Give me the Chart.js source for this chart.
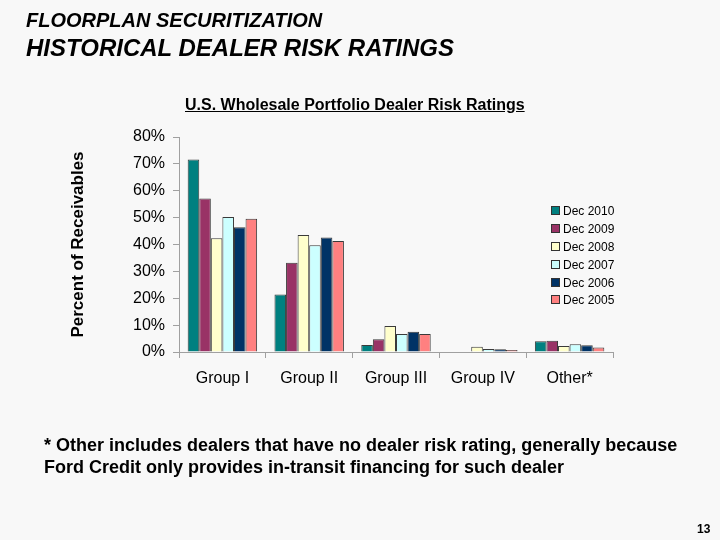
<!DOCTYPE html>
<html>
<head>
<meta charset="utf-8">
<script src="https://cdn.jsdelivr.net/npm/chart.js@4"></script>
<style>
  body { margin: 0; background: #f8f8f8; font-family: "Liberation Sans", Arial, sans-serif; }
  #slide { position: relative; width: 720px; height: 540px; overflow: hidden; }
  #chart { position: absolute; left: 0; top: 0; }
  .txt { position: absolute; color: #000; font-weight: bold; white-space: nowrap; }
  #legend { position: absolute; left: 551px; top: 203px; font-size: 12px; }
  #legend div { height: 17.9px; line-height: 17.9px; }
  #legend span.box { display: inline-block; width: 7px; height: 7px; border: 1px solid #333; margin-right: 3px; vertical-align: 0px; }
</style>
</head>
<body>
<div id="slide">
  <canvas id="chart" width="720" height="540"></canvas>
  <div class="txt" style="left:26px; top:9px; font-size:20px; font-style:italic;">FLOORPLAN SECURITIZATION</div>
  <div class="txt" style="left:26px; top:34px; font-size:24px; font-style:italic;">HISTORICAL DEALER RISK RATINGS</div>
  <div class="txt" style="left:185px; top:96px; font-size:16px; text-decoration:underline;">U.S. Wholesale Portfolio Dealer Risk Ratings</div>
  <div class="txt" style="left:44px; top:434px; font-size:18px; line-height:22px;">* Other includes dealers that have no dealer risk rating, generally because<br>Ford Credit only provides in-transit financing for such dealer</div>
  <div class="txt" style="left:697px; top:522px; font-size:12px;">13</div>
  <div id="legend"></div>
</div>
<script>
const categories = ['Group I', 'Group II', 'Group III', 'Group IV', 'Other*'];
const seriesNames = ['Dec 2010', 'Dec 2009', 'Dec 2008', 'Dec 2007', 'Dec 2006', 'Dec 2005'];
const dec2010 = [71.6, 21.4, 2.6, 0.0, 4.0];
const dec2009 = [57.1, 33.2, 4.7, 0.2, 4.2];
const dec2008 = [42.3, 43.5, 9.7, 2.0, 2.2];
const dec2007 = [50.2, 39.7, 6.7, 1.1, 2.9];
const dec2006 = [46.4, 42.6, 7.5, 1.0, 2.5];
const dec2005 = [49.6, 41.3, 6.7, 0.7, 1.7];
const yTicks = [0, 10, 20, 30, 40, 50, 60, 70, 80];

const colors = ['#008080', '#993366', '#ffffcc', '#ccffff', '#003366', '#ff8080'];
const values = [dec2010, dec2009, dec2008, dec2007, dec2006, dec2005];

const datasets = seriesNames.map((name, i) => ({
    label: name,
    data: values[i],
    backgroundColor: colors[i],
    borderColor: '#3a3a3a',
    borderWidth: 1,
    borderSkipped: 'bottom',
    categoryPercentage: 0.8,
    barPercentage: 1.0
}));

// legend drawn as html, it floats inside the plot area like in the slide
const legend = document.getElementById('legend');
datasets.forEach(ds => {
    const row = document.createElement('div');
    row.innerHTML = `<span class="box" style="background:${ds.backgroundColor}"></span>${ds.label}`;
    legend.appendChild(row);
});

const ctx = document.getElementById('chart').getContext('2d');
new Chart(ctx, {
    type: 'bar',
    data: { labels: categories, datasets: datasets },
    options: {
        responsive: false,
        animation: false,
        layout: { padding: { left: 64, right: 107, top: 137, bottom: 148 } },
        plugins: {
            legend: { display: false },
            tooltip: { enabled: false }
        },
        scales: {
            x: {
                grid: { drawOnChartArea: false, tickLength: 6, color: '#a0a0a0' },
                border: { color: '#a0a0a0' },
                ticks: { color: '#000', font: { family: 'Liberation Sans', size: 16 }, padding: 11, maxRotation: 0 },
                afterFit: scale => { scale.height = 40; }
            },
            y: {
                min: 0,
                max: 80,
                afterBuildTicks: scale => { scale.ticks = yTicks.map(v => ({ value: v })); },
                grid: { drawOnChartArea: false, tickLength: 6, color: '#a0a0a0' },
                border: { color: '#a0a0a0' },
                ticks: {
                    color: '#000',
                    font: { family: 'Liberation Sans', size: 16 },
                    padding: 8,
                    callback: v => v + '%'
                },
                title: {
                    display: true,
                    text: 'Percent of Receivables',
                    color: '#000',
                    font: { family: 'Liberation Sans', size: 17, weight: 'bold' }
                },
                afterFit: scale => { scale.width = 115; }
            }
        }
    }
});
</script>
</body>
</html>
